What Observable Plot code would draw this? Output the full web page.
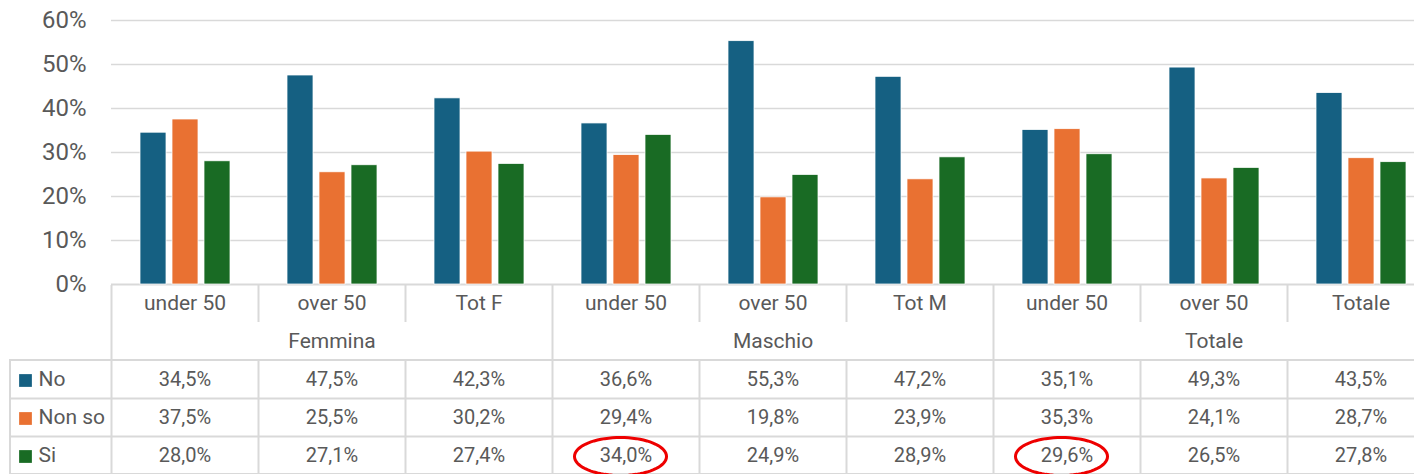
<!DOCTYPE html>
<html>
<head>
<meta charset="utf-8">
<script src="https://cdn.jsdelivr.net/npm/d3@7"></script>
<script src="https://cdn.jsdelivr.net/npm/@observablehq/plot@0.6"></script>
<style>
  html, body { margin: 0; padding: 0; background: #fff; overflow: hidden; }
  #chart { position: relative; width: 1414px; height: 474px; }
  #chart svg { display: block; overflow: hidden; }
  #chart svg.table-part { position: absolute; left: 0; top: 285px; background: transparent !important; }
</style>
</head>
<body>
<div id="chart"></div>
<script>
// ---- Data ----
const groups = ["Femmina", "Maschio", "Totale"];
const subcategories = ["under 50", "over 50", "Tot F", "under 50", "over 50", "Tot M", "under 50", "over 50", "Totale"];
const series = ["No", "Non so", "Si"];
const valuesNo    = [34.5, 47.5, 42.3, 36.6, 55.3, 47.2, 35.1, 49.3, 43.5];
const valuesNonSo = [37.5, 25.5, 30.2, 29.4, 19.8, 23.9, 35.3, 24.1, 28.7];
const valuesSi    = [28.0, 27.1, 27.4, 34.0, 24.9, 28.9, 29.6, 26.5, 27.8];
const yTicks = [0, 10, 20, 30, 40, 50, 60];
const seriesColors = ["#156082", "#E97132", "#196B24"];
const highlighted = [{column: 3, series: "Si"}, {column: 6, series: "Si"}];

// ---- Derived tables ----
const seriesValues = [valuesNo, valuesNonSo, valuesSi];
const columnKeys = subcategories.map((s, i) => groups[Math.floor(i / 3)] + " | " + s);
const rows = [];
series.forEach((s, si) => seriesValues[si].forEach((v, ci) => rows.push({column: columnKeys[ci], ci, series: s, si, value: v})));
const fmt = v => v.toFixed(1).replace(".", ",") + "%";

const textColor = "#595959";
const lineColor = "#d9d9d9";
const font = "Roboto, 'Liberation Sans', sans-serif";

// ---- Bar chart ----
const chart = Plot.plot({
  width: 1414,
  height: 305,
  marginTop: 20,
  marginBottom: 21,
  marginLeft: 111,
  marginRight: 0,
  style: {fontFamily: font, fontSize: "24px", color: textColor, background: "white"},
  fx: {domain: columnKeys, range: [111, 1434], padding: 0, axis: null},
  x: {domain: series, paddingInner: 0.2, paddingOuter: 0.862, axis: null},
  y: {domain: [0, 60], ticks: yTicks, tickFormat: d => d + "%", tickSize: 0, tickPadding: 25, label: null},
  color: {domain: series, range: seriesColors},
  marks: [
    Plot.gridY(yTicks.filter(t => t > 0), {stroke: lineColor, strokeOpacity: 1, strokeWidth: 1.5}),
    Plot.ruleY([0], {stroke: lineColor, strokeWidth: 2}),
    Plot.barY(rows, {fx: "column", x: "series", y: "value", fill: "series", stroke: "white", strokeWidth: 0.75})
  ]
});

// ---- Data table below the chart ----
const ellipse = {
  draw(ctx) {
    const rx = 46, ry = 19, n = 72;
    for (let k = 0; k <= n; ++k) {
      const a = 2 * Math.PI * k / n;
      const px = rx * Math.cos(a), py = ry * Math.sin(a);
      if (k === 0) ctx.moveTo(px, py); else ctx.lineTo(px, py);
    }
    ctx.closePath();
  }
};

const table = Plot.plot({
  width: 1414,
  height: 189,
  marginTop: 0,
  marginBottom: 0,
  marginLeft: 10,
  marginRight: 0,
  style: {fontFamily: font, fontSize: "20px", color: textColor, background: "transparent"},
  x: {domain: [0, 9], range: [111, 1434], axis: null},
  y: {domain: [0, 5], range: [-1, 189], axis: null},
  color: {domain: series, range: seriesColors},
  marks: [
    // horizontal lines of the data rows, and left border of legend column
    Plot.rect([0], {y1: () => 2, y2: () => 5, insetRight: -60, fill: "none", stroke: lineColor, strokeWidth: 2}),
    Plot.ruleY([3, 4], {stroke: lineColor, strokeWidth: 2, insetRight: -60}),
    // column separators
    Plot.ruleX([0, 3, 6, 9], {y1: () => 0, y2: () => 5, stroke: lineColor, strokeWidth: 2}),
    Plot.ruleX([1, 2, 4, 5, 7, 8], {y1: () => 0, y2: () => 1, stroke: lineColor, strokeWidth: 2}),
    Plot.ruleX([1, 2, 4, 5, 7, 8], {y1: () => 2, y2: () => 5, stroke: lineColor, strokeWidth: 2}),
    // category labels
    Plot.text(subcategories, {x: (d, i) => i + 0.5, y: () => 0.5, text: d => d, fill: textColor, fontSize: 21}),
    Plot.text(groups, {x: (d, i) => i * 3 + 1.5, y: () => 1.5, text: d => d, fill: textColor, fontSize: 21}),
    // values
    Plot.text(rows, {x: d => d.ci + 0.5, y: d => d.si + 2.5, text: d => fmt(d.value), fill: textColor, fontSize: 20}),
    // legend column
    Plot.dot(series, {y: (d, i) => i + 2.5, frameAnchor: "left", dx: 15, dy: 1, symbol: "square", r: 7.2, fill: d => d}),
    Plot.text(series, {y: (d, i) => i + 2.5, frameAnchor: "left", dx: 28, textAnchor: "start", text: d => d, fill: textColor, fontSize: 21}),
    // red highlight ellipses
    Plot.dot(highlighted, {x: d => d.column + 0.5, y: d => series.indexOf(d.series) + 2.5, dx: -5.5, dy: 1, symbol: ellipse, r: 20, fill: "none", stroke: "#ee0000", strokeWidth: 3})
  ]
});
table.classList.add("table-part");

document.getElementById("chart").append(chart, table);
</script>
</body>
</html>
